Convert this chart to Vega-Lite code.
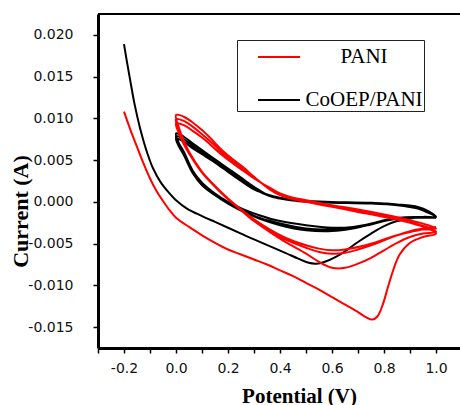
{
"$schema": "https://vega.github.io/schema/vega-lite/v6.json",
"width": 362, "height": 334,
"autosize": {"type": "none"},
"padding": {"left": 98, "top": 14, "right": 0, "bottom": 57},
"background": "white",
"config": {"view": {"stroke": null}},
"layer": [
{
"data": {"values": [
{"s":"CoOEP/PANI","i":1,"x":-0.2,"y":0.0189},
{"s":"CoOEP/PANI","i":2,"x":-0.19,"y":0.0170},
{"s":"CoOEP/PANI","i":3,"x":-0.177,"y":0.0147},
{"s":"CoOEP/PANI","i":4,"x":-0.16,"y":0.0118},
{"s":"CoOEP/PANI","i":5,"x":-0.138,"y":0.0088},
{"s":"CoOEP/PANI","i":6,"x":-0.11,"y":0.0058},
{"s":"CoOEP/PANI","i":7,"x":-0.088,"y":0.0040},
{"s":"CoOEP/PANI","i":8,"x":-0.06,"y":0.0024},
{"s":"CoOEP/PANI","i":9,"x":-0.03,"y":0.0012},
{"s":"CoOEP/PANI","i":10,"x":0.0,"y":0.0002},
{"s":"CoOEP/PANI","i":11,"x":0.042,"y":-0.0008},
{"s":"CoOEP/PANI","i":12,"x":0.1,"y":-0.0017},
{"s":"CoOEP/PANI","i":13,"x":0.15,"y":-0.0024},
{"s":"CoOEP/PANI","i":14,"x":0.2,"y":-0.0031},
{"s":"CoOEP/PANI","i":15,"x":0.25,"y":-0.0038},
{"s":"CoOEP/PANI","i":16,"x":0.3,"y":-0.0045},
{"s":"CoOEP/PANI","i":17,"x":0.36,"y":-0.0053},
{"s":"CoOEP/PANI","i":18,"x":0.42,"y":-0.0061},
{"s":"CoOEP/PANI","i":19,"x":0.47,"y":-0.0068},
{"s":"CoOEP/PANI","i":20,"x":0.51,"y":-0.0073},
{"s":"CoOEP/PANI","i":21,"x":0.54,"y":-0.0074},
{"s":"CoOEP/PANI","i":22,"x":0.57,"y":-0.0072},
{"s":"CoOEP/PANI","i":23,"x":0.62,"y":-0.0065},
{"s":"CoOEP/PANI","i":24,"x":0.66,"y":-0.0057},
{"s":"CoOEP/PANI","i":25,"x":0.7,"y":-0.0048},
{"s":"CoOEP/PANI","i":26,"x":0.75,"y":-0.0038},
{"s":"CoOEP/PANI","i":27,"x":0.8,"y":-0.0029},
{"s":"CoOEP/PANI","i":28,"x":0.85,"y":-0.0023},
{"s":"CoOEP/PANI","i":29,"x":0.9,"y":-0.0020},
{"s":"CoOEP/PANI","i":30,"x":0.95,"y":-0.0018},
{"s":"CoOEP/PANI","i":31,"x":1.0,"y":-0.0018},
{"s":"CoOEP/PANI","i":32,"x":0.97,"y":-0.0013},
{"s":"CoOEP/PANI","i":33,"x":0.93,"y":-0.0008},
{"s":"CoOEP/PANI","i":34,"x":0.85,"y":-0.0004},
{"s":"CoOEP/PANI","i":35,"x":0.75,"y":-0.0002},
{"s":"CoOEP/PANI","i":36,"x":0.6,"y":-0.0001},
{"s":"CoOEP/PANI","i":37,"x":0.5,"y":0.0000},
{"s":"CoOEP/PANI","i":38,"x":0.44,"y":0.0002},
{"s":"CoOEP/PANI","i":39,"x":0.4,"y":0.0004},
{"s":"CoOEP/PANI","i":40,"x":0.36,"y":0.0007},
{"s":"CoOEP/PANI","i":41,"x":0.3,"y":0.0018},
{"s":"CoOEP/PANI","i":42,"x":0.25,"y":0.0029},
{"s":"CoOEP/PANI","i":43,"x":0.2,"y":0.0040},
{"s":"CoOEP/PANI","i":44,"x":0.15,"y":0.0051},
{"s":"CoOEP/PANI","i":45,"x":0.1,"y":0.0062},
{"s":"CoOEP/PANI","i":46,"x":0.06,"y":0.0071},
{"s":"CoOEP/PANI","i":47,"x":0.03,"y":0.0078},
{"s":"CoOEP/PANI","i":48,"x":0.0,"y":0.0082},
{"s":"CoOEP/PANI","i":49,"x":0.01,"y":0.0071},
{"s":"CoOEP/PANI","i":50,"x":0.03,"y":0.0060},
{"s":"CoOEP/PANI","i":51,"x":0.065,"y":0.0037},
{"s":"CoOEP/PANI","i":52,"x":0.1,"y":0.0023},
{"s":"CoOEP/PANI","i":53,"x":0.15,"y":0.0010},
{"s":"CoOEP/PANI","i":54,"x":0.2,"y":0.0000},
{"s":"CoOEP/PANI","i":55,"x":0.26,"y":-0.0009},
{"s":"CoOEP/PANI","i":56,"x":0.32,"y":-0.0016},
{"s":"CoOEP/PANI","i":57,"x":0.4,"y":-0.0023},
{"s":"CoOEP/PANI","i":58,"x":0.5,"y":-0.0028},
{"s":"CoOEP/PANI","i":59,"x":0.6,"y":-0.0031},
{"s":"CoOEP/PANI","i":60,"x":0.68,"y":-0.0030},
{"s":"CoOEP/PANI","i":61,"x":0.75,"y":-0.0026},
{"s":"CoOEP/PANI","i":62,"x":0.8,"y":-0.0022},
{"s":"CoOEP/PANI","i":63,"x":0.86,"y":-0.0019},
{"s":"CoOEP/PANI","i":64,"x":0.93,"y":-0.0018},
{"s":"CoOEP/PANI","i":65,"x":1.0,"y":-0.0018},
{"s":"CoOEP/PANI","i":66,"x":0.97,"y":-0.0012},
{"s":"CoOEP/PANI","i":67,"x":0.93,"y":-0.0007},
{"s":"CoOEP/PANI","i":68,"x":0.85,"y":-0.0003},
{"s":"CoOEP/PANI","i":69,"x":0.75,"y":-0.0001},
{"s":"CoOEP/PANI","i":70,"x":0.6,"y":0.0000},
{"s":"CoOEP/PANI","i":71,"x":0.5,"y":0.0001},
{"s":"CoOEP/PANI","i":72,"x":0.44,"y":0.0002},
{"s":"CoOEP/PANI","i":73,"x":0.4,"y":0.0004},
{"s":"CoOEP/PANI","i":74,"x":0.36,"y":0.0007},
{"s":"CoOEP/PANI","i":75,"x":0.3,"y":0.0016},
{"s":"CoOEP/PANI","i":76,"x":0.25,"y":0.0027},
{"s":"CoOEP/PANI","i":77,"x":0.2,"y":0.0038},
{"s":"CoOEP/PANI","i":78,"x":0.15,"y":0.0049},
{"s":"CoOEP/PANI","i":79,"x":0.1,"y":0.0059},
{"s":"CoOEP/PANI","i":80,"x":0.06,"y":0.0068},
{"s":"CoOEP/PANI","i":81,"x":0.03,"y":0.0075},
{"s":"CoOEP/PANI","i":82,"x":0.0,"y":0.0079},
{"s":"CoOEP/PANI","i":83,"x":0.01,"y":0.0069},
{"s":"CoOEP/PANI","i":84,"x":0.03,"y":0.0058},
{"s":"CoOEP/PANI","i":85,"x":0.065,"y":0.0035},
{"s":"CoOEP/PANI","i":86,"x":0.1,"y":0.0021},
{"s":"CoOEP/PANI","i":87,"x":0.15,"y":0.0008},
{"s":"CoOEP/PANI","i":88,"x":0.2,"y":-0.0002},
{"s":"CoOEP/PANI","i":89,"x":0.26,"y":-0.0012},
{"s":"CoOEP/PANI","i":90,"x":0.32,"y":-0.0020},
{"s":"CoOEP/PANI","i":91,"x":0.4,"y":-0.0028},
{"s":"CoOEP/PANI","i":92,"x":0.5,"y":-0.0034},
{"s":"CoOEP/PANI","i":93,"x":0.6,"y":-0.0035},
{"s":"CoOEP/PANI","i":94,"x":0.68,"y":-0.0032},
{"s":"CoOEP/PANI","i":95,"x":0.75,"y":-0.0027},
{"s":"CoOEP/PANI","i":96,"x":0.8,"y":-0.0023},
{"s":"CoOEP/PANI","i":97,"x":0.86,"y":-0.0019},
{"s":"CoOEP/PANI","i":98,"x":0.93,"y":-0.0018},
{"s":"CoOEP/PANI","i":99,"x":1.0,"y":-0.0018},
{"s":"CoOEP/PANI","i":100,"x":0.97,"y":-0.0011},
{"s":"CoOEP/PANI","i":101,"x":0.93,"y":-0.0006},
{"s":"CoOEP/PANI","i":102,"x":0.85,"y":-0.0003},
{"s":"CoOEP/PANI","i":103,"x":0.75,"y":-0.0001},
{"s":"CoOEP/PANI","i":104,"x":0.6,"y":0.0000},
{"s":"CoOEP/PANI","i":105,"x":0.5,"y":0.0001},
{"s":"CoOEP/PANI","i":106,"x":0.44,"y":0.0003},
{"s":"CoOEP/PANI","i":107,"x":0.4,"y":0.0005},
{"s":"CoOEP/PANI","i":108,"x":0.36,"y":0.0008},
{"s":"CoOEP/PANI","i":109,"x":0.3,"y":0.0015},
{"s":"CoOEP/PANI","i":110,"x":0.25,"y":0.0025},
{"s":"CoOEP/PANI","i":111,"x":0.2,"y":0.0036},
{"s":"CoOEP/PANI","i":112,"x":0.15,"y":0.0047},
{"s":"CoOEP/PANI","i":113,"x":0.1,"y":0.0057},
{"s":"CoOEP/PANI","i":114,"x":0.06,"y":0.0065},
{"s":"CoOEP/PANI","i":115,"x":0.03,"y":0.0072},
{"s":"CoOEP/PANI","i":116,"x":0.0,"y":0.0076},
{"s":"CoOEP/PANI","i":117,"x":0.01,"y":0.0067},
{"s":"CoOEP/PANI","i":118,"x":0.03,"y":0.0056},
{"s":"CoOEP/PANI","i":119,"x":0.065,"y":0.0034},
{"s":"CoOEP/PANI","i":120,"x":0.1,"y":0.0020},
{"s":"CoOEP/PANI","i":121,"x":0.15,"y":0.0008},
{"s":"CoOEP/PANI","i":122,"x":0.2,"y":-0.0002},
{"s":"CoOEP/PANI","i":123,"x":0.26,"y":-0.0011},
{"s":"CoOEP/PANI","i":124,"x":0.32,"y":-0.0019},
{"s":"CoOEP/PANI","i":125,"x":0.4,"y":-0.0026},
{"s":"CoOEP/PANI","i":126,"x":0.5,"y":-0.0032},
{"s":"CoOEP/PANI","i":127,"x":0.6,"y":-0.0033},
{"s":"CoOEP/PANI","i":128,"x":0.68,"y":-0.0031},
{"s":"CoOEP/PANI","i":129,"x":0.75,"y":-0.0027},
{"s":"CoOEP/PANI","i":130,"x":0.8,"y":-0.0023},
{"s":"CoOEP/PANI","i":131,"x":0.86,"y":-0.0020},
{"s":"CoOEP/PANI","i":132,"x":0.93,"y":-0.0019},
{"s":"CoOEP/PANI","i":133,"x":1.0,"y":-0.0019},
{"s":"PANI","i":1,"x":-0.2,"y":0.0108},
{"s":"PANI","i":2,"x":-0.175,"y":0.0086},
{"s":"PANI","i":3,"x":-0.15,"y":0.0066},
{"s":"PANI","i":4,"x":-0.125,"y":0.0046},
{"s":"PANI","i":5,"x":-0.1,"y":0.0028},
{"s":"PANI","i":6,"x":-0.075,"y":0.0013},
{"s":"PANI","i":7,"x":-0.05,"y":0.0001},
{"s":"PANI","i":8,"x":-0.025,"y":-0.0010},
{"s":"PANI","i":9,"x":0.0,"y":-0.0019},
{"s":"PANI","i":10,"x":0.05,"y":-0.0030},
{"s":"PANI","i":11,"x":0.1,"y":-0.0040},
{"s":"PANI","i":12,"x":0.15,"y":-0.0049},
{"s":"PANI","i":13,"x":0.2,"y":-0.0057},
{"s":"PANI","i":14,"x":0.25,"y":-0.0063},
{"s":"PANI","i":15,"x":0.3,"y":-0.0069},
{"s":"PANI","i":16,"x":0.35,"y":-0.0075},
{"s":"PANI","i":17,"x":0.4,"y":-0.0082},
{"s":"PANI","i":18,"x":0.45,"y":-0.0089},
{"s":"PANI","i":19,"x":0.5,"y":-0.0097},
{"s":"PANI","i":20,"x":0.55,"y":-0.0105},
{"s":"PANI","i":21,"x":0.6,"y":-0.0114},
{"s":"PANI","i":22,"x":0.65,"y":-0.0123},
{"s":"PANI","i":23,"x":0.7,"y":-0.0132},
{"s":"PANI","i":24,"x":0.73,"y":-0.0138},
{"s":"PANI","i":25,"x":0.755,"y":-0.0141},
{"s":"PANI","i":26,"x":0.775,"y":-0.0137},
{"s":"PANI","i":27,"x":0.795,"y":-0.0123},
{"s":"PANI","i":28,"x":0.815,"y":-0.0102},
{"s":"PANI","i":29,"x":0.835,"y":-0.0082},
{"s":"PANI","i":30,"x":0.86,"y":-0.0063},
{"s":"PANI","i":31,"x":0.9,"y":-0.0049},
{"s":"PANI","i":32,"x":0.95,"y":-0.0042},
{"s":"PANI","i":33,"x":1.0,"y":-0.0038},
{"s":"PANI","i":34,"x":0.97,"y":-0.0032},
{"s":"PANI","i":35,"x":0.9,"y":-0.0025},
{"s":"PANI","i":36,"x":0.8,"y":-0.0018},
{"s":"PANI","i":37,"x":0.7,"y":-0.0012},
{"s":"PANI","i":38,"x":0.6,"y":-0.0006},
{"s":"PANI","i":39,"x":0.5,"y":0.0000},
{"s":"PANI","i":40,"x":0.45,"y":0.0003},
{"s":"PANI","i":41,"x":0.4,"y":0.0008},
{"s":"PANI","i":42,"x":0.36,"y":0.0015},
{"s":"PANI","i":43,"x":0.3,"y":0.0030},
{"s":"PANI","i":44,"x":0.26,"y":0.0041},
{"s":"PANI","i":45,"x":0.21,"y":0.0053},
{"s":"PANI","i":46,"x":0.17,"y":0.0064},
{"s":"PANI","i":47,"x":0.13,"y":0.0077},
{"s":"PANI","i":48,"x":0.1,"y":0.0086},
{"s":"PANI","i":49,"x":0.06,"y":0.0096},
{"s":"PANI","i":50,"x":0.03,"y":0.0102},
{"s":"PANI","i":51,"x":0.0,"y":0.0104},
{"s":"PANI","i":52,"x":0.01,"y":0.0090},
{"s":"PANI","i":53,"x":0.03,"y":0.0073},
{"s":"PANI","i":54,"x":0.05,"y":0.0060},
{"s":"PANI","i":55,"x":0.1,"y":0.0036},
{"s":"PANI","i":56,"x":0.15,"y":0.0018},
{"s":"PANI","i":57,"x":0.2,"y":0.0003},
{"s":"PANI","i":58,"x":0.25,"y":-0.0010},
{"s":"PANI","i":59,"x":0.3,"y":-0.0023},
{"s":"PANI","i":60,"x":0.36,"y":-0.0036},
{"s":"PANI","i":61,"x":0.42,"y":-0.0048},
{"s":"PANI","i":62,"x":0.5,"y":-0.0062},
{"s":"PANI","i":63,"x":0.55,"y":-0.0072},
{"s":"PANI","i":64,"x":0.6,"y":-0.0079},
{"s":"PANI","i":65,"x":0.65,"y":-0.0079},
{"s":"PANI","i":66,"x":0.7,"y":-0.0074},
{"s":"PANI","i":67,"x":0.75,"y":-0.0067},
{"s":"PANI","i":68,"x":0.8,"y":-0.0058},
{"s":"PANI","i":69,"x":0.85,"y":-0.0049},
{"s":"PANI","i":70,"x":0.9,"y":-0.0042},
{"s":"PANI","i":71,"x":0.95,"y":-0.0038},
{"s":"PANI","i":72,"x":1.0,"y":-0.0036},
{"s":"PANI","i":73,"x":0.97,"y":-0.0031},
{"s":"PANI","i":74,"x":0.9,"y":-0.0024},
{"s":"PANI","i":75,"x":0.8,"y":-0.0017},
{"s":"PANI","i":76,"x":0.7,"y":-0.0011},
{"s":"PANI","i":77,"x":0.6,"y":-0.0005},
{"s":"PANI","i":78,"x":0.5,"y":0.0001},
{"s":"PANI","i":79,"x":0.45,"y":0.0004},
{"s":"PANI","i":80,"x":0.4,"y":0.0009},
{"s":"PANI","i":81,"x":0.36,"y":0.0016},
{"s":"PANI","i":82,"x":0.3,"y":0.0029},
{"s":"PANI","i":83,"x":0.26,"y":0.0039},
{"s":"PANI","i":84,"x":0.21,"y":0.0051},
{"s":"PANI","i":85,"x":0.17,"y":0.0061},
{"s":"PANI","i":86,"x":0.13,"y":0.0073},
{"s":"PANI","i":87,"x":0.1,"y":0.0081},
{"s":"PANI","i":88,"x":0.06,"y":0.0091},
{"s":"PANI","i":89,"x":0.03,"y":0.0097},
{"s":"PANI","i":90,"x":0.0,"y":0.0099},
{"s":"PANI","i":91,"x":0.01,"y":0.0086},
{"s":"PANI","i":92,"x":0.03,"y":0.0071},
{"s":"PANI","i":93,"x":0.05,"y":0.0059},
{"s":"PANI","i":94,"x":0.1,"y":0.0036},
{"s":"PANI","i":95,"x":0.15,"y":0.0019},
{"s":"PANI","i":96,"x":0.2,"y":0.0004},
{"s":"PANI","i":97,"x":0.25,"y":-0.0009},
{"s":"PANI","i":98,"x":0.3,"y":-0.0021},
{"s":"PANI","i":99,"x":0.36,"y":-0.0033},
{"s":"PANI","i":100,"x":0.42,"y":-0.0043},
{"s":"PANI","i":101,"x":0.5,"y":-0.0052},
{"s":"PANI","i":102,"x":0.55,"y":-0.0056},
{"s":"PANI","i":103,"x":0.6,"y":-0.0058},
{"s":"PANI","i":104,"x":0.65,"y":-0.0057},
{"s":"PANI","i":105,"x":0.7,"y":-0.0054},
{"s":"PANI","i":106,"x":0.75,"y":-0.0050},
{"s":"PANI","i":107,"x":0.8,"y":-0.0045},
{"s":"PANI","i":108,"x":0.85,"y":-0.0040},
{"s":"PANI","i":109,"x":0.9,"y":-0.0036},
{"s":"PANI","i":110,"x":0.95,"y":-0.0033},
{"s":"PANI","i":111,"x":1.0,"y":-0.0032},
{"s":"PANI","i":112,"x":0.97,"y":-0.0028},
{"s":"PANI","i":113,"x":0.9,"y":-0.0022},
{"s":"PANI","i":114,"x":0.8,"y":-0.0015},
{"s":"PANI","i":115,"x":0.7,"y":-0.0009},
{"s":"PANI","i":116,"x":0.6,"y":-0.0004},
{"s":"PANI","i":117,"x":0.5,"y":0.0002},
{"s":"PANI","i":118,"x":0.45,"y":0.0005},
{"s":"PANI","i":119,"x":0.4,"y":0.0010},
{"s":"PANI","i":120,"x":0.36,"y":0.0017},
{"s":"PANI","i":121,"x":0.3,"y":0.0028},
{"s":"PANI","i":122,"x":0.26,"y":0.0037},
{"s":"PANI","i":123,"x":0.21,"y":0.0048},
{"s":"PANI","i":124,"x":0.17,"y":0.0058},
{"s":"PANI","i":125,"x":0.13,"y":0.0069},
{"s":"PANI","i":126,"x":0.1,"y":0.0077},
{"s":"PANI","i":127,"x":0.06,"y":0.0086},
{"s":"PANI","i":128,"x":0.03,"y":0.0092},
{"s":"PANI","i":129,"x":0.0,"y":0.0094},
{"s":"PANI","i":130,"x":0.01,"y":0.0083},
{"s":"PANI","i":131,"x":0.03,"y":0.0069},
{"s":"PANI","i":132,"x":0.05,"y":0.0058},
{"s":"PANI","i":133,"x":0.1,"y":0.0035},
{"s":"PANI","i":134,"x":0.15,"y":0.0018},
{"s":"PANI","i":135,"x":0.2,"y":0.0003},
{"s":"PANI","i":136,"x":0.25,"y":-0.0010},
{"s":"PANI","i":137,"x":0.3,"y":-0.0022},
{"s":"PANI","i":138,"x":0.36,"y":-0.0034},
{"s":"PANI","i":139,"x":0.42,"y":-0.0045},
{"s":"PANI","i":140,"x":0.5,"y":-0.0055},
{"s":"PANI","i":141,"x":0.55,"y":-0.0060},
{"s":"PANI","i":142,"x":0.6,"y":-0.0062},
{"s":"PANI","i":143,"x":0.65,"y":-0.0061},
{"s":"PANI","i":144,"x":0.7,"y":-0.0057},
{"s":"PANI","i":145,"x":0.75,"y":-0.0052},
{"s":"PANI","i":146,"x":0.8,"y":-0.0046},
{"s":"PANI","i":147,"x":0.85,"y":-0.0040},
{"s":"PANI","i":148,"x":0.9,"y":-0.0035},
{"s":"PANI","i":149,"x":0.95,"y":-0.0032},
{"s":"PANI","i":150,"x":1.0,"y":-0.0030}
]},
"mark": {"type": "line", "interpolate": "catmull-rom", "strokeWidth": 2},
"encoding": {
"x": {"field": "x", "type": "quantitative",
"scale": {"domain": [-0.3, 1.092], "nice": false, "zero": false},
"axis": {"title": "Potential (V)", "grid": false,
"values": [-0.3,-0.2,-0.1,0,0.1,0.2,0.3,0.4,0.5,0.6,0.7,0.8,0.9,1.0],
"labelExpr": "abs(round(datum.value*10)) % 2 == 0 ? replace(format(datum.value, '.1f'), '\u2212', '-') : ''",
"tickSize": 5,
"encode": {"ticks": {"update": {"y2": {"signal": "abs(round(datum.value*10)) % 2 == 0 ? 5 : 3"}}}},
"tickWidth": 1.5, "tickColor": "black",
"domainWidth": 3, "domainColor": "black",
"labelFont": "DejaVu Sans", "labelFontSize": 14, "labelColor": "#111", "labelPadding": 8,
"labelFlush": false, "labelOverlap": false,
"titleFont": "Liberation Serif", "titleFontSize": 21, "titleFontWeight": "bold", "titleColor": "black",
"titleX": 201, "titleY": 54, "titleBaseline": "alphabetic", "titleAlign": "center"}},
"y": {"field": "y", "type": "quantitative",
"scale": {"domain": [-0.0175, 0.0225], "nice": false, "zero": false},
"axis": {"title": "Current (A)", "grid": false,
"values": [-0.015,-0.01,-0.005,0,0.005,0.01,0.015,0.02],
"labelExpr": "replace(format(datum.value, '.3f'), '\u2212', '-')",
"tickSize": 5,
"tickWidth": 1.5, "tickColor": "black",
"domainWidth": 3, "domainColor": "black",
"labelFont": "DejaVu Sans", "labelFontSize": 14, "labelColor": "#111", "labelPadding": 20,
"labelFlush": false, "labelOverlap": false,
"titleFont": "Liberation Serif", "titleFontSize": 22, "titleFontWeight": "bold", "titleColor": "black",
"titleX": -78, "titleY": 197, "titleBaseline": "middle", "titleAlign": "center", "titleAngle": -90}},
"color": {"field": "s", "type": "nominal",
"scale": {"domain": ["PANI", "CoOEP/PANI"], "range": ["#ff0000", "#000000"]},
"legend": {"orient": "none", "legendX": 139, "legendY": 26, "title": null,
"symbolType": "M-1.4,0H1.4", "symbolSize": 900, "symbolStrokeWidth": 2, "symbolOffset": 25,
"labelFont": "Liberation Serif", "labelFontSize": 21, "labelColor": "black",
"labelAlign": "center", "labelOffset": 69, "labelLimit": 300,
"rowPadding": 17, "padding": 1, "strokeColor": "#222", "fillColor": "white"}},
"order": {"field": "i", "type": "quantitative"}
}
},
{
"data": {"values": [{"t": 1}]},
"mark": {"type": "rule", "strokeWidth": 2, "color": "black"},
"encoding": {"y": {"datum": 0.0225, "type": "quantitative"}}
}
]
}
